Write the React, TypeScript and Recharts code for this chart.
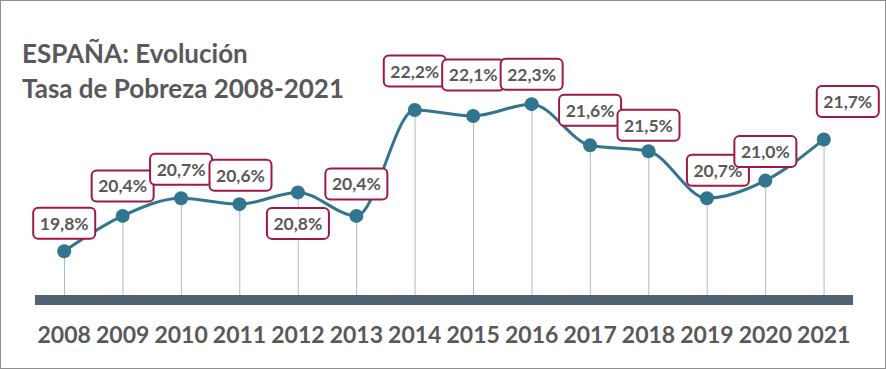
import React from 'react';
import { ComposedChart, Line, Bar, XAxis, YAxis, LabelList } from 'recharts';

// Tasa de riesgo de pobreza, España
const years = ['2008', '2009', '2010', '2011', '2012', '2013', '2014', '2015', '2016', '2017', '2018', '2019', '2020', '2021'];
const rates = [19.8, 20.4, 20.7, 20.6, 20.8, 20.4, 22.2, 22.1, 22.3, 21.6, 21.5, 20.7, 21.0, 21.7];

// where each callout sits relative to its point (dx, dy)
const labelOffsets: [number, number][] = [
  [0, -28], [0, -30], [0, -29], [1, -29], [0, 31], [0, -32], [0, -39],
  [0, -41], [0, -30], [0, -35], [0, -26], [11, -28], [0, -29], [24, -38],
];

const data = years.map((year, i) => ({ year, rate: rates[i] }));

const TEXT = '#595959';
const FONT = 'Lato, "Open Sans", sans-serif';

const Callout = (props: any) => {
  const { x, y, value, index } = props;
  const [dx, dy] = labelOffsets[index] || [0, -30];
  const cx = x + dx;
  const cy = y + dy;
  const w = 62;
  const h = 31;
  return (
    <g>
      <rect x={cx - w / 2} y={cy - h / 2} width={w} height={h} rx={5} ry={5}
        fill="#fff" stroke="#a01846" strokeWidth={2} />
      <text x={cx} y={cy + 6.5} textAnchor="middle" fill={TEXT}
        fontFamily={FONT} fontWeight={700} fontSize={17.5}>
        {value.toFixed(1).replace('.', ',') + '%'}
      </text>
    </g>
  );
};

const YearTick = (props: any) => {
  const { x, y, payload } = props;
  return (
    <text x={x} y={y + 35} textAnchor="middle" fill={TEXT}
      fontFamily={FONT} fontWeight={700} fontSize={23}>
      {payload.value}
    </text>
  );
};

export default function App() {
  return (
    <div style={{ position: 'relative', width: 886, height: 369, boxSizing: 'border-box', border: '1px solid #8f8f8f', background: '#fff' }}>
      <style>{'body{margin:0}'}</style>
      <div style={{ position: 'absolute', left: 21, top: 35, fontFamily: FONT, fontWeight: 700, fontSize: 26, lineHeight: '35px', color: TEXT }}>
        ESPAÑA: Evolución<br />Tasa de Pobreza 2008-2021
      </div>
      <ComposedChart width={884} height={367} data={data}
        margin={{ top: 62, right: 32, bottom: 18, left: 34 }}>
        <XAxis dataKey="year" axisLine={{ stroke: '#506373', strokeWidth: 10 }}
          tickLine={false} tick={<YearTick />} height={50} interval={0} />
        <YAxis hide domain={[18.97, 23]} />
        <Bar dataKey="rate" barSize={1} fill="#a9bccb" isAnimationActive={false} />
        <Line dataKey="rate" type="monotone" stroke="#31758f" strokeWidth={3}
          dot={{ r: 7, fill: '#31758f', stroke: 'none' }} activeDot={false}
          isAnimationActive={false}>
          <LabelList dataKey="rate" content={<Callout />} />
        </Line>
      </ComposedChart>
    </div>
  );
}
